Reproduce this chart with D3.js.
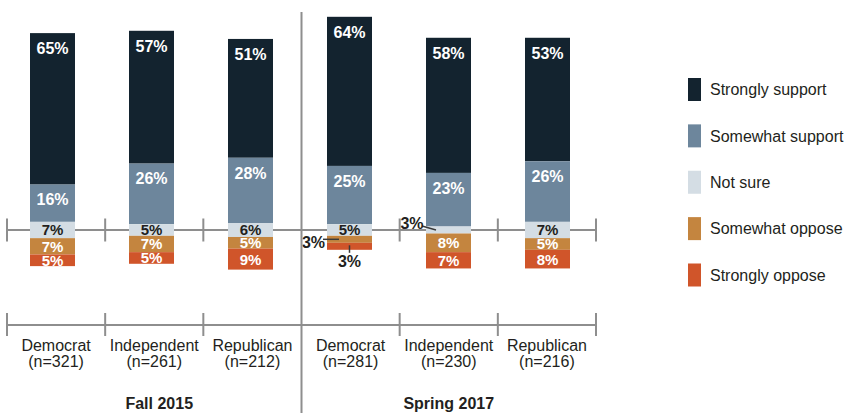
<!DOCTYPE html>
<html>
<head>
<meta charset="utf-8">
<script src="https://cdn.jsdelivr.net/npm/d3@7"></script>
<style>
  html, body { margin: 0; padding: 0; background: #fff; }
  svg { display: block; }
  .narrow { font-family: "Liberation Sans Narrow", "Arial Narrow", "Liberation Sans", sans-serif; }
  .legend text { font-family: "Liberation Sans", Arial, sans-serif; font-size: 16px; fill: #231f20; }
</style>
</head>
<body>
<svg id="chart" width="850" height="413"></svg>
<script>
// Survey responses by party, two waves
const groups = ["Fall 2015", "Spring 2017"];
const parties = ["Democrat", "Independent", "Republican", "Democrat", "Independent", "Republican"];
const sampleSizes = [321, 261, 212, 281, 230, 216];
const waveOf = [0, 0, 0, 1, 1, 1];

const seriesNames = ["Strongly support", "Somewhat support", "Not sure", "Somewhat oppose", "Strongly oppose"];
const stronglySupport = [65, 57, 51, 64, 58, 53];
const somewhatSupport = [16, 26, 28, 25, 23, 26];
const notSure = [7, 5, 6, 5, 3, 7];
const somewhatOppose = [7, 7, 5, 3, 8, 5];
const stronglyOppose = [5, 5, 9, 3, 7, 8];

const colors = ["#13232f", "#6d869c", "#d4dde4", "#c4853f", "#d0552a"];
const labelColors = ["#fff", "#fff", "#231f20", "#fff", "#fff"];
const axisGrey = "#8e8e8e";

const svg = d3.select("#chart");
const keys = parties.map((p, i) => i);

// section boundaries along the axis, and bar centres
const band = d3.scaleBand().domain(keys).range([7, 596]).paddingInner(0).paddingOuter(0);
const barX = d3.scalePoint().domain(keys).range([52.5, 547.5]);
const barW = 45;

// percentage -> pixels, zero at the neutral midline
const y = d3.scaleLinear().domain([0, 100]).range([230, -3]);

// build diverging stacks: "Not sure" straddles zero, support above, oppose below
const rows = keys.map(i => {
  const v = [stronglySupport[i], somewhatSupport[i], notSure[i], somewhatOppose[i], stronglyOppose[i]];
  const half = v[2] / 2;
  const segs = [];
  segs[2] = { lo: -half, hi: half };
  segs[1] = { lo: half, hi: half + v[1] };
  segs[0] = { lo: half + v[1], hi: half + v[1] + v[0] };
  segs[3] = { lo: -half - v[3], hi: -half };
  segs[4] = { lo: -half - v[3] - v[4], hi: -half - v[3] };
  return segs.map((s, k) => ({ i, k, value: v[k], lo: s.lo, hi: s.hi }));
});

// neutral midline axis with section ticks
const mid = svg.append("g");
mid.append("line")
  .attr("x1", band.range()[0]).attr("x2", band.range()[1])
  .attr("y1", y(0)).attr("y2", y(0))
  .attr("stroke", axisGrey).attr("stroke-width", 2);

const tickXs = keys.map(i => band(i)).concat([band.range()[1]]).filter((x, j) => j !== 3);
mid.selectAll("line.tick").data(tickXs).join("line")
  .attr("class", "tick")
  .attr("x1", d => d).attr("x2", d => d)
  .attr("y1", y(0) - 11.5).attr("y2", y(0) + 11.5)
  .attr("stroke", axisGrey).attr("stroke-width", 2);

// bars
const barG = svg.append("g");
rows.forEach(segs => {
  barG.selectAll(null).data(segs).join("rect")
    .attr("x", d => barX(d.i) - barW / 2)
    .attr("width", barW)
    .attr("y", d => y(d.hi))
    .attr("height", d => y(d.lo) - y(d.hi))
    .attr("fill", d => colors[d.k]);
});

// callouts for segments too thin to hold a label
const callouts = [
  { i: 3, k: 3, side: "left" },
  { i: 3, k: 4, side: "below" },
  { i: 4, k: 2, side: "upleft" }
];
const isCallout = d => callouts.some(c => c.i === d.i && c.k === d.k);

const labelG = svg.append("g").attr("class", "narrow")
  .style("font-size", "16px").style("font-weight", "bold");

rows.forEach(segs => {
  labelG.selectAll(null).data(segs.filter(d => !isCallout(d))).join("text")
    .attr("x", d => barX(d.i))
    .attr("y", d => d.value >= 15 ? y(d.hi) + 15 : (y(d.hi) + y(d.lo)) / 2)
    .attr("dy", "0.36em")
    .attr("text-anchor", "middle")
    .style("font-size", d => d.value >= 15 ? "16px" : "15px")
    .attr("fill", d => labelColors[d.k])
    .text(d => d.value + "%");
});

const leader = "#3a3a3a";
callouts.forEach(c => {
  const d = rows[c.i][c.k];
  const left = barX(c.i) - barW / 2;
  const midY = (y(d.hi) + y(d.lo)) / 2;
  if (c.side === "left") {
    labelG.append("line")
      .attr("x1", left - 4).attr("x2", left + 12)
      .attr("y1", midY).attr("y2", midY)
      .attr("stroke", leader).attr("stroke-width", 1.5);
    labelG.append("text")
      .attr("x", left - 2).attr("y", midY + 3).attr("dy", "0.36em")
      .attr("text-anchor", "end").attr("fill", "#231f20")
      .text(d.value + "%");
  } else if (c.side === "below") {
    labelG.append("line")
      .attr("x1", barX(c.i)).attr("x2", barX(c.i))
      .attr("y1", midY - 1).attr("y2", y(d.lo) + 3)
      .attr("stroke", leader).attr("stroke-width", 1.5);
    labelG.append("text")
      .attr("x", barX(c.i)).attr("y", y(d.lo) + 11).attr("dy", "0.36em")
      .attr("text-anchor", "middle").attr("fill", "#231f20")
      .text(d.value + "%");
  } else {
    labelG.append("line")
      .attr("x1", left - 4).attr("x2", left + 10)
      .attr("y1", midY - 4).attr("y2", midY)
      .attr("stroke", leader).attr("stroke-width", 1.5);
    labelG.append("text")
      .attr("x", left - 2.5).attr("y", midY - 7).attr("dy", "0.36em")
      .attr("text-anchor", "end").attr("fill", "#231f20")
      .text(d.value + "%");
  }
});

// category axis
const axisY = 325;
const catG = svg.append("g");
catG.append("line")
  .attr("x1", band.range()[0]).attr("x2", band.range()[1])
  .attr("y1", axisY).attr("y2", axisY)
  .attr("stroke", axisGrey).attr("stroke-width", 2);
catG.selectAll("line.tick").data(tickXs).join("line")
  .attr("class", "tick")
  .attr("x1", d => d).attr("x2", d => d)
  .attr("y1", axisY - 12).attr("y2", axisY + 11)
  .attr("stroke", axisGrey).attr("stroke-width", 2);

const catText = svg.append("g").attr("class", "narrow")
  .style("font-size", "16px").attr("fill", "#231f20");
catText.selectAll("text.party").data(keys).join("text")
  .attr("class", "party")
  .attr("x", i => band(i) + band.bandwidth() / 2)
  .attr("y", 350.5)
  .attr("text-anchor", "middle")
  .text(i => parties[i]);
catText.selectAll("text.n").data(keys).join("text")
  .attr("class", "n")
  .attr("x", i => band(i) + band.bandwidth() / 2)
  .attr("y", 366.5)
  .attr("text-anchor", "middle")
  .text(i => "(n=" + sampleSizes[i] + ")");

// wave labels
const groupCenter = g => {
  const idx = keys.filter(i => waveOf[i] === g);
  return (band(idx[0]) + band(idx[idx.length - 1]) + band.bandwidth()) / 2;
};
catText.selectAll("text.wave").data(groups.map((g, j) => j)).join("text")
  .attr("class", "wave")
  .attr("x", j => groupCenter(j) + (j === 0 ? 5 : 0))
  .attr("y", 409)
  .attr("text-anchor", "middle")
  .style("font-weight", "bold")
  .text(j => groups[j]);

// divider between waves
svg.append("line")
  .attr("x1", band(3)).attr("x2", band(3))
  .attr("y1", 12).attr("y2", 413)
  .attr("stroke", axisGrey).attr("stroke-width", 2);

// legend
const legend = svg.append("g").attr("class", "legend");
const legendY = d3.scalePoint().domain(seriesNames).range([89.5, 275]);
seriesNames.forEach((name, k) => {
  const cy = legendY(name);
  legend.append("rect")
    .attr("x", 688).attr("y", cy - 11.5)
    .attr("width", 13).attr("height", 23)
    .attr("fill", colors[k]);
  legend.append("text")
    .attr("x", 710).attr("y", cy).attr("dy", "0.36em")
    .text(name);
});
</script>
</body>
</html>
